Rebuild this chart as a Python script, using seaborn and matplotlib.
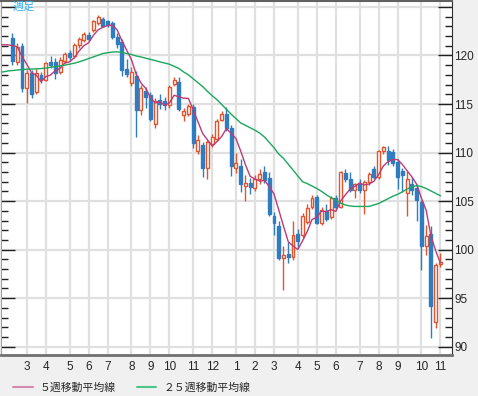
import numpy as np
import pandas as pd
import matplotlib
matplotlib.use('Agg')
import matplotlib.pyplot as plt
from matplotlib.lines import Line2D
from matplotlib.ticker import MultipleLocator
import seaborn as sns

# weekly candles, first one is the week of 2007-02-12
FIRST_WEEK = '2007-02-12'
OPEN = [121.8, 119.3, 121.0, 116.6, 118.2, 116.2, 118.0, 117.5, 119.3, 119.3,
        118.3, 119.4, 120.3, 119.9, 121.1, 121.6, 122.1, 122.6, 123.3, 123.8,
        123.5, 123.3, 121.9, 121.4, 118.6, 117.2, 117.9, 114.4, 116.3, 115.9,
        112.9, 115.4, 115.3, 114.9, 117.1, 117.3, 113.9, 114.0, 114.7, 110.2,
        110.8, 108.4, 110.9, 111.4, 113.4, 114.0, 112.5, 108.4, 108.6, 106.6,
        106.9, 106.4, 107.3, 108.0, 107.4, 103.5, 102.4, 99.1, 99.6, 99.2,
        101.6, 101.5, 102.8, 104.4, 105.4, 102.7, 104.0, 103.4, 105.3, 104.4,
        107.9, 107.3, 106.1, 106.8, 106.1, 107.0, 108.3, 107.5, 110.2, 110.2,
        110.1, 109.0, 108.1, 105.8, 106.8, 106.3, 104.9, 100.4, 101.6, 92.5,
        98.5]
HIGH = [122.3, 121.3, 121.3, 118.5, 118.5, 118.6, 118.3, 119.3, 119.9, 119.7,
        119.8, 120.4, 120.6, 121.3, 121.9, 122.4, 122.4, 123.7, 124.2, 124.0,
        123.7, 123.5, 122.3, 121.7, 119.6, 118.8, 118.4, 117.0, 116.8, 116.2,
        115.6, 116.0, 115.7, 117.0, 117.8, 117.8, 114.6, 115.0, 115.0, 111.8,
        111.1, 111.3, 111.9, 113.5, 114.3, 114.7, 112.8, 110.0, 109.3, 107.7,
        107.4, 107.7, 108.3, 108.6, 108.0, 103.9, 103.0, 100.4, 100.8, 102.9,
        102.1, 103.8, 104.7, 105.6, 105.6, 104.4, 104.7, 105.5, 105.6, 108.1,
        108.3, 108.0, 106.9, 107.3, 107.2, 108.0, 108.6, 110.3, 110.7, 110.7,
        110.4, 109.3, 108.4, 108.1, 107.5, 106.8, 105.1, 102.5, 102.4, 98.6,
        99.7]
LOW = [119.0, 119.0, 116.2, 115.1, 115.6, 116.0, 117.2, 117.4, 118.7, 117.6,
       118.1, 119.2, 119.5, 119.7, 120.8, 121.4, 121.5, 122.4, 123.1, 122.9,
       122.9, 121.7, 120.8, 117.9, 117.8, 116.9, 111.6, 113.9, 114.6, 113.3,
       112.5, 114.5, 114.4, 114.6, 116.9, 114.3, 113.3, 113.8, 110.5, 109.9,
       107.5, 107.3, 110.6, 111.2, 113.2, 112.2, 107.6, 107.9, 105.9, 105.0,
       105.7, 106.0, 106.8, 106.9, 103.5, 101.5, 98.9, 95.8, 98.6, 98.9,
       100.2, 101.2, 102.6, 104.2, 102.6, 102.5, 103.0, 103.2, 104.2, 104.3,
       107.0, 105.9, 105.3, 105.8, 103.7, 106.7, 107.3, 107.3, 109.8, 108.7,
       108.6, 106.2, 105.9, 103.5, 105.6, 103.0, 97.9, 99.4, 90.9, 91.9,
       98.2]
CLOSE = [119.4, 120.9, 116.6, 118.2, 116.0, 118.2, 117.5, 119.2, 119.0, 118.2,
         119.5, 120.2, 119.8, 121.1, 121.7, 122.2, 121.7, 123.6, 124.0, 123.0,
         123.1, 121.9, 121.2, 118.5, 118.1, 118.3, 114.4, 116.6, 115.7, 113.5,
         115.3, 115.0, 114.9, 116.8, 117.5, 114.5, 114.3, 114.8, 111.0, 111.3,
         108.4, 111.1, 111.6, 113.2, 114.0, 112.5, 108.6, 108.9, 106.8, 106.9,
         106.5, 107.3, 107.8, 107.2, 103.7, 102.7, 99.1, 99.4, 99.2, 101.5,
         100.9, 103.5, 104.3, 105.3, 102.7, 104.1, 103.2, 105.3, 104.4, 108.0,
         107.3, 106.1, 106.8, 106.1, 107.0, 107.8, 107.5, 110.2, 110.6, 109.2,
         108.9, 107.5, 107.7, 107.3, 106.1, 105.1, 100.4, 101.4, 94.2, 98.4,
         98.7]

# moving averages start three weeks before the first visible candle
MA_FIRST_WEEK = -3
MA5 = [121.1, 121.1, 121.1, 121.0, 120.9, 119.9, 119.1,
       118.22, 117.98, 117.30, 117.82, 117.98, 118.42, 118.68, 119.22, 119.34, 119.76,
       120.46, 121.00, 121.30, 122.06, 122.64, 122.90, 123.08, 123.12, 122.64, 121.54,
       120.56, 119.60, 118.10, 117.18, 116.62, 115.70, 115.10, 115.22, 114.88, 115.10,
       115.90, 115.74, 115.60, 115.58, 114.42, 113.18, 111.96, 111.32, 110.68, 111.12,
       111.66, 112.48, 111.98, 111.44, 110.16, 108.74, 107.54, 107.28, 107.06, 107.14,
       106.50, 105.74, 104.10, 102.42, 100.82, 100.38, 100.02, 100.90, 101.88, 103.10,
       103.34, 103.98, 103.92, 104.12, 103.94, 105.00, 105.64, 106.22, 106.52, 106.86,
       106.66, 106.76, 107.04, 107.72, 108.62, 109.06, 109.28, 109.28, 108.78, 108.12,
       107.50, 106.74, 105.32, 104.06, 101.44, 99.90, 98.62]
MA25 = [118.3, 118.3, 118.4, 118.45, 118.5, 118.55, 118.58, 118.6, 118.62, 118.65,
        118.7, 118.78, 118.85, 118.92, 119.0, 119.1, 119.2, 119.34, 119.5, 119.68,
        119.85, 120.02, 120.2, 120.28, 120.35, 120.37, 120.33, 120.2, 120.1, 119.95,
        119.85, 119.72, 119.6, 119.48, 119.34, 119.22, 119.1, 118.88, 118.66, 118.3,
        118.0, 117.6, 117.2, 116.8, 116.3, 115.85, 115.45, 114.95, 114.45, 113.95,
        113.5, 113.05, 112.8, 112.55, 112.3, 112.0, 111.6, 111.05, 110.5, 109.85,
        109.4, 108.8, 108.2, 107.6, 107.0, 106.8, 106.55, 106.3, 106.0, 105.65,
        105.35, 105.1, 104.8, 104.6, 104.5, 104.45, 104.45, 104.45, 104.45, 104.6,
        104.75, 105.0, 105.25, 105.5, 105.7, 105.95, 106.25, 106.45, 106.6, 106.5,
        106.3, 106.05, 105.8, 105.55]
MA_LABELS = ['５週移動平均線', '２５週移動平均線']
PERIOD_LABEL = '週足'
PRICE_TICKS = [90, 95, 100, 105, 110, 115, 120, 125]

UP_COLOR = '#e0542e'
DOWN_COLOR = '#2f7cc0'
MA5_COLOR = '#bf3a74'
MA25_COLOR = '#1aa85c'
W, H = 478, 396

sns.set_style('white')
plt.rcParams['font.family'] = ['Liberation Sans', 'Noto Sans CJK JP', 'DejaVu Sans']

df = pd.DataFrame({'open': OPEN, 'high': HIGH, 'low': LOW, 'close': CLOSE})
df['week'] = np.arange(len(df))
df['date'] = pd.date_range(FIRST_WEEK, periods=len(df), freq='7D')
up = df['close'] >= df['open']
body_lo = df[['open', 'close']].min(axis=1)
body_hi = df[['open', 'close']].max(axis=1)
edge = np.where(up, UP_COLOR, DOWN_COLOR)
fill = np.where(up, 'white', DOWN_COLOR)

fig = plt.figure(figsize=(W / 100, H / 100), dpi=100, facecolor='#f0f0f0')
ax = fig.add_axes([0.5 / W, 1 - 355 / H, 451.5 / W, 354.5 / H])
ax.set_facecolor('white')

ax.vlines(df['week'], df['low'], body_lo, colors=edge, linewidth=1, zorder=2)
ax.vlines(df['week'], body_hi, df['high'], colors=edge, linewidth=1, zorder=2)
ax.bar(df['week'], body_hi - body_lo, bottom=body_lo, width=0.62,
       color=fill, edgecolor=edge, linewidth=1, zorder=3)

ma = pd.DataFrame({'week': np.arange(len(MA5)) + MA_FIRST_WEEK,
                   MA_LABELS[0]: MA5, MA_LABELS[1]: MA25})
ma = ma.melt('week', var_name='line', value_name='price')
sns.lineplot(data=ma, x='week', y='price', hue='line',
             palette={MA_LABELS[0]: MA5_COLOR, MA_LABELS[1]: MA25_COLOR},
             linewidth=1, legend=False, ax=ax, zorder=4)

# month ticks on the first week of each month
new_month = df['date'].dt.month != df['date'].dt.month.shift(1)
new_month.iloc[0] = False
ax.set_xticks(df.loc[new_month, 'week'])
ax.set_xticklabels(df.loc[new_month, 'date'].dt.month.astype(str))
ax.set_xlim(-2.52, 92.44)
ax.set_ylim(89.15, 125.66)
ax.set_yticks(PRICE_TICKS)
ax.set_yticklabels([str(t) if t < 125 else '' for t in PRICE_TICKS])
ax.yaxis.set_minor_locator(MultipleLocator(1))
ax.set_xlabel('')
ax.set_ylabel('')

ax.grid(True, which='major', color='#e0e0e0', linewidth=1.6)
ax.set_axisbelow(True)
ax.tick_params(axis='y', which='major', direction='in', length=10, width=1,
               color='#202020', left=True, right=True, labelleft=False,
               labelright=True, labelsize=8.5, pad=1.5)
ax.tick_params(axis='y', which='minor', direction='in', length=5, width=1,
               color='#202020', left=True, right=True)
ax.tick_params(axis='x', length=0, labelsize=8.5, pad=4)

ax.spines['top'].set_color('#606060')
ax.spines['top'].set_linewidth(1.5)
ax.spines['bottom'].set_color('#707070')
ax.spines['bottom'].set_linewidth(2)
ax.spines['left'].set_color('#a0a0a0')
ax.spines['right'].set_color('#303030')

fig.text(13 / W, 1 - 2 / H, PERIOD_LABEL, color='#30b0f0', fontsize=8,
         va='top', ha='left', family=['Noto Sans CJK JP'])

handles = [Line2D([], [], color='#d488b0', linewidth=1.5),
           Line2D([], [], color='#4cc48a', linewidth=1.5)]
fig.legend(handles, MA_LABELS, loc='lower left', bbox_to_anchor=(13 / W, 3 / H),
           ncol=2, frameon=False, fontsize=7.8, handlelength=1.8,
           handletextpad=0.7, columnspacing=1.9, borderpad=0, borderaxespad=0)

fig.savefig('out.png', dpi=100, facecolor=fig.get_facecolor())
